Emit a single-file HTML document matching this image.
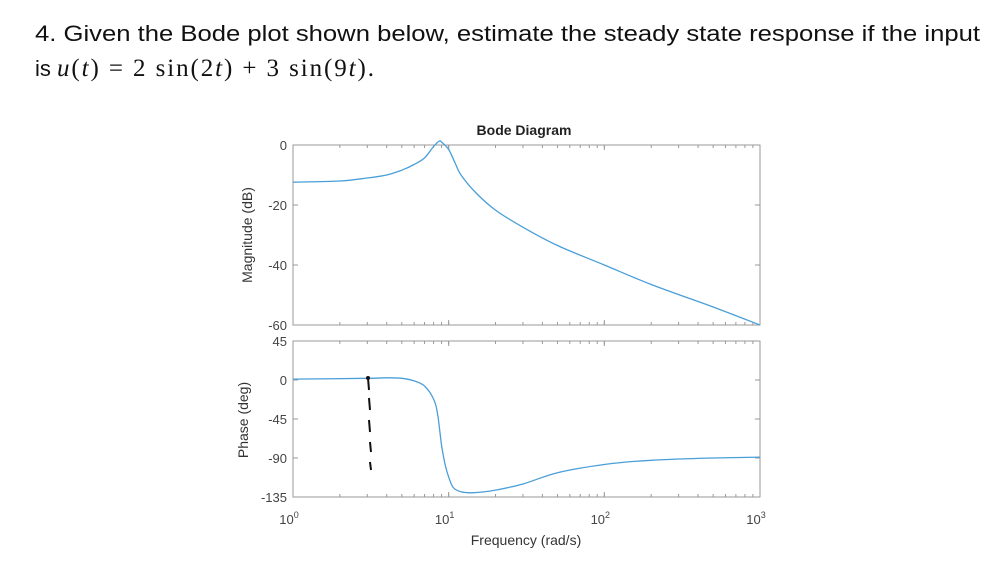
<!DOCTYPE html>
<html><head><meta charset="utf-8"><style>
body{margin:0;background:#fff;width:993px;height:562px;overflow:hidden}
svg{display:block}
</style></head><body>
<svg id="chart" width="993" height="562" viewBox="0 0 993 562" font-family="Liberation Sans, sans-serif">
<text x="35" y="41" font-size="22" fill="#111" textLength="945" lengthAdjust="spacingAndGlyphs">4. Given the Bode plot shown below, estimate the steady state response if the input</text>
<text x="35" y="76" font-size="22" fill="#111">is <tspan font-family="Liberation Serif, serif" font-size="25" textLength="317" lengthAdjust="spacing"><tspan font-style="italic">u</tspan>(<tspan font-style="italic">t</tspan>) = 2 sin(2<tspan font-style="italic">t</tspan>) + 3 sin(9<tspan font-style="italic">t</tspan>).</tspan></text>
<text x="524" y="135" font-size="14" font-weight="bold" text-anchor="middle" fill="#222">Bode Diagram</text>
<g id="mag"></g>
<g id="ph"></g>
<text x="526" y="545" font-size="14" text-anchor="middle" fill="#333">Frequency  (rad/s)</text>
<text transform="translate(252,235) rotate(-90)" font-size="14" text-anchor="middle" fill="#333">Magnitude (dB)</text>
<text transform="translate(248,420) rotate(-90)" font-size="14" text-anchor="middle" fill="#333">Phase (deg)</text>
<path d="M368,378 L369,390 M369,398 L370,410 M369,420 L370,432 M370,442 L371,452 M370,462 L371,470" stroke="#111" stroke-width="2" fill="none"/>
<circle cx="368" cy="378" r="2" fill="#111"/>
</svg>
<script>
const freqMag=[1,2,3,4,5,6,7,8,8.7,9,10,11,12,15,20,30,50,100,200,500,1000];
const magDb=[-12.4,-12,-11,-10,-8.4,-6.5,-4.3,-0.5,1.3,1,-1.5,-6,-10,-16,-21.7,-27.4,-33.5,-40,-46.5,-54,-60];
const freqPh=[1,3,4,5,6,7,8,8.5,9,9.5,10,10.7,12,14.5,20,30,50,100,200,500,1000];
const phDeg=[1,2,2.5,2,-1,-7,-22,-40,-75,-98,-112,-124,-129,-130,-127,-120,-107,-97.5,-92.6,-90,-89];
const magTicks=[0,-20,-40,-60];
const phTicks=[45,0,-45,-90,-135];
const decadeLabels=["0","1","2","3"];
const NS="http://www.w3.org/2000/svg";
const X0=293,X1=760;
const xs=w=>X0+(Math.log10(w)-0)/3*(X1-X0);
const magY=d=>145+(0-d)/60*180;
const phY=d=>341+(45-d)/180*156;
function mk(p,t,a){const e=document.createElementNS(NS,t);for(const k in a)e.setAttribute(k,a[k]);p.appendChild(e);return e;}
function axes(g,top,bot,ticks,yf,nm){
  const r=mk(g,'rect',{x:X0,y:top,width:X1-X0,height:bot-top,fill:'none',stroke:'#999','stroke-width':1});
  
  
  ticks.forEach(v=>{const y=yf(v);
    mk(g,'line',{x1:X0,x2:X0+5,y1:y,y2:y,stroke:'#999'});
    mk(g,'line',{x1:X1,x2:X1-5,y1:y,y2:y,stroke:'#999'});
    const t=mk(g,'text',{x:X0-6,y:y+5,'font-size':13,'text-anchor':'end',fill:'#444'});
    t.textContent=v;
    
    });
  for(let d=0;d<3;d++)for(let m=1;m<=10;m++){const x=xs(m*Math.pow(10,d));const L=m==10?5:3;
    mk(g,'line',{x1:x,x2:x,y1:top,y2:top+L,stroke:'#999'});mk(g,'line',{x1:x,x2:x,y1:bot,y2:bot-L,stroke:'#999'});}
}
function line(g,xa,ya,yf,nm){
  const P=xa.map((w,i)=>[xs(w),yf(ya[i])]);
  let d='M'+P[0][0].toFixed(1)+','+P[0][1].toFixed(1);
  for(let i=0;i<P.length-1;i++){
    const p0=P[Math.max(0,i-1)],p1=P[i],p2=P[i+1],p3=P[Math.min(P.length-1,i+2)];
    const c1=[p1[0]+(p2[0]-p0[0])/6,p1[1]+(p2[1]-p0[1])/6];
    const c2=[p2[0]-(p3[0]-p1[0])/6,p2[1]-(p3[1]-p1[1])/6];
    d+=' C'+c1.map(v=>v.toFixed(1)).join(',')+' '+c2.map(v=>v.toFixed(1)).join(',')+' '+p2.map(v=>v.toFixed(1)).join(',');
  }
  const p=mk(g,'path',{d:d,fill:'none',stroke:'#4a9fd8','stroke-width':1.3,'stroke-linejoin':'round'});
  
  
}
const gm=document.getElementById('mag'),gp=document.getElementById('ph');
axes(gm,145,325,magTicks,magY,'magnitude');
axes(gp,341,497,phTicks,phY,'phase');
line(gm,freqMag,magDb,magY,'magnitude-curve');
line(gp,freqPh,phDeg,phY,'phase-curve');
decadeLabels.forEach((e,i)=>{const x=xs(Math.pow(10,i));
  const t=mk(gp,'text',{x:x-4,y:524,'font-size':13,'text-anchor':'middle',fill:'#444'});
  t.innerHTML='10<tspan dy="-6" font-size="9">'+e+'</tspan>';
  
  });
</script>
</body></html>
